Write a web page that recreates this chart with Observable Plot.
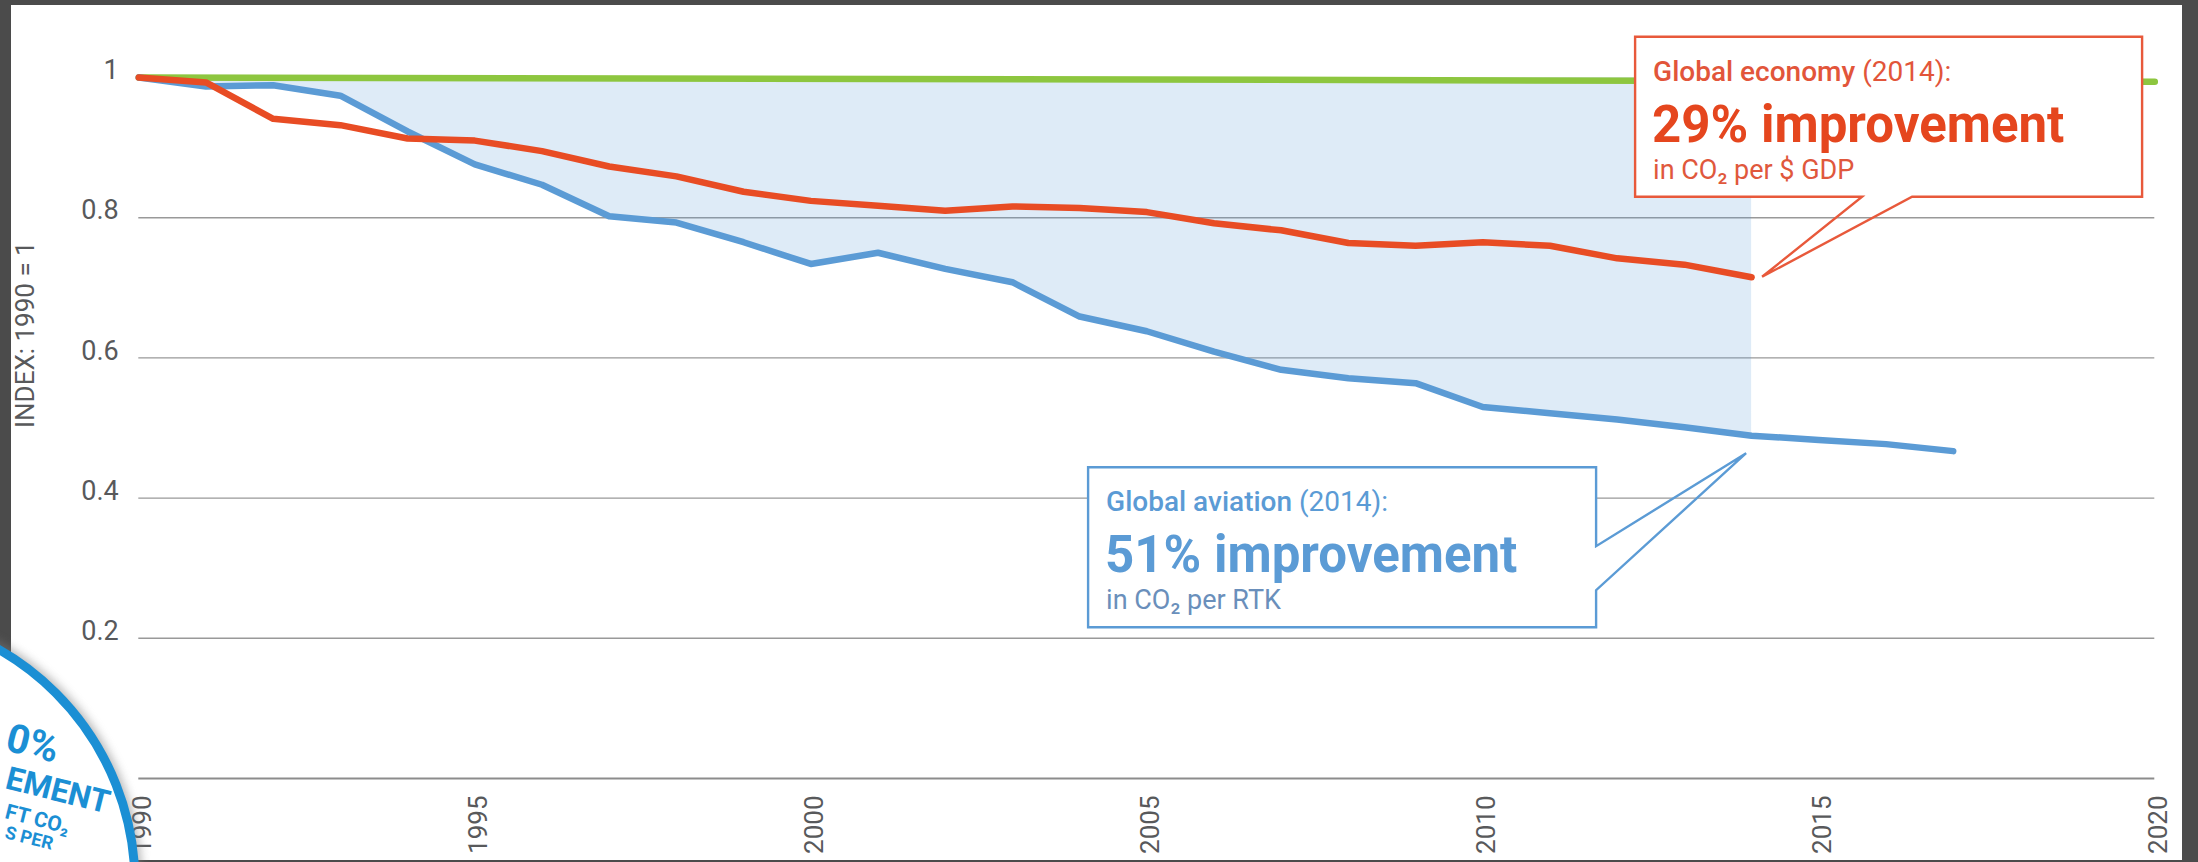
<!DOCTYPE html>
<html>
<head>
<meta charset="utf-8">
<script src="https://cdn.jsdelivr.net/npm/d3@7"></script>
<script src="https://cdn.jsdelivr.net/npm/@observablehq/plot@0.6"></script>
<style>
  html, body { margin: 0; padding: 0; background: #4b4b4b; width: 2198px; height: 862px; overflow: hidden; }
  #panel { position: absolute; left: 11px; top: 5px; width: 2171px; height: 855px; background: #fff; }
  #chart { position: absolute; left: 0; top: 0; }
  #badge { position: absolute; left: 0; top: 0; overflow: hidden; }
</style>
</head>
<body>
<div id="panel"></div>
<div id="chart"></div>
<svg id="badge" width="300" height="862"></svg>
<script>
// ---------------- DATA ----------------
const aviationYears = [1990,1991,1992,1993,1994,1995,1996,1997,1998,1999,2000,2001,2002,2003,2004,2005,2006,2007,2008,2009,2010,2011,2012,2013,2014,2015,2016,2017];
const aviationIndex = [1.000,0.987,0.989,0.974,0.923,0.876,0.847,0.802,0.793,0.765,0.734,0.750,0.727,0.708,0.659,0.638,0.609,0.583,0.571,0.564,0.530,0.521,0.512,0.501,0.489,0.483,0.477,0.467];

const economyYears = [1990,1991,1992,1993,1994,1995,1996,1997,1998,1999,2000,2001,2002,2003,2004,2005,2006,2007,2008,2009,2010,2011,2012,2013,2014];
const economyIndex = [1.000,0.993,0.941,0.932,0.913,0.910,0.895,0.873,0.859,0.837,0.824,0.817,0.810,0.816,0.814,0.808,0.792,0.782,0.764,0.760,0.765,0.760,0.742,0.733,0.715];

const baselineYears = [1990, 2020];
const baselineIndex = [1.000, 0.994];

const shadeEndYear = 2014;

const xTicks = [1990, 1995, 2000, 2005, 2010, 2015, 2020];
const xTickLabels = ["1990", "1995", "2000", "2005", "2010", "2015", "2020"];
const yTicks = [0.2, 0.4, 0.6, 0.8, 1];
const yTickLabels = ["0.2", "0.4", "0.6", "0.8", "1"];
const yAxisTitle = "INDEX: 1990 = 1";

const economyCallout = { title: "Global economy", year: " (2014):", big: "29% improvement", sub: "in CO₂ per $ GDP" };
const aviationCallout = { title: "Global aviation", year: " (2014):", big: "51% improvement", sub: "in CO₂ per RTK" };

const badgeTexts = ["0%", "EMENT", "FT CO₂", "S PER"];

// ---------------- TABLES ----------------
const aviationRows = aviationYears.map((year, i) => ({ year, value: aviationIndex[i] }));
const economyRows = economyYears.map((year, i) => ({ year, value: economyIndex[i] }));
const baselineRows = baselineYears.map((year, i) => ({ year, value: baselineIndex[i] }));
const shadeRows = aviationRows.filter(d => d.year <= shadeEndYear).map(d => ({ year: d.year, lower: d.value, upper: 1 }));

// ---------------- COLOURS ----------------
const BLUE = "#5b9bd5", RED = "#e84c24", GREEN = "#8dc63f", GREY = "#58595b";

const chart = Plot.plot({
  width: 2198,
  height: 862,
  marginLeft: 138.3,
  marginRight: 43.7,
  marginTop: 77,
  marginBottom: 84,
  style: { background: "transparent", fontFamily: "Roboto, sans-serif", color: GREY },
  x: { domain: [1990, 2020], axis: null },
  y: { domain: [0, 1], axis: null },
  marks: [
    Plot.ruleY(yTicks.filter(d => d < 1), { stroke: "#999999", strokeWidth: 1.4 }),
    Plot.ruleY([0], { stroke: "#8c8c8c", strokeWidth: 2 }),
    Plot.areaY(shadeRows, { x: "year", y1: "lower", y2: "upper", fill: BLUE, fillOpacity: 0.2 }),
    Plot.line(baselineRows, { x: "year", y: "value", stroke: GREEN, strokeWidth: 6.5, strokeLinecap: "round" }),
    Plot.line(aviationRows, { x: "year", y: "value", stroke: BLUE, strokeWidth: 6.5, strokeLinecap: "round", strokeLinejoin: "round" }),
    Plot.line(economyRows, { x: "year", y: "value", stroke: RED, strokeWidth: 6.5, strokeLinecap: "round", strokeLinejoin: "round" }),
    Plot.text(yTicks, { frameAnchor: "left", y: d => d, text: (d, i) => yTickLabels[i], textAnchor: "end", dx: -20, dy: -7, fontSize: 27, fill: GREY }),
    Plot.text(xTicks, { frameAnchor: "bottom", x: d => d, text: (d, i) => xTickLabels[i], rotate: -90, textAnchor: "end", dx: 12, dy: 17, fontSize: 26, fill: GREY }),
    Plot.text([yAxisTitle], { frameAnchor: "left", rotate: -90, dx: -113, fontSize: 26, fill: GREY })
  ]
});
document.getElementById("chart").appendChild(chart);

// ---------------- CALLOUTS ----------------
const X = chart.scale("x"), Y = chart.scale("y");
const svg = d3.select(chart);
const g = svg.append("g").attr("font-family", "Roboto, sans-serif").attr("text-anchor", "start");

function callout(box, pointerPath, color, texts, textColors) {
  g.append("rect").attr("x", box.left).attr("y", box.top)
    .attr("width", box.right - box.left).attr("height", box.bottom - box.top)
    .attr("fill", "#fff");
  g.append("path").attr("d", pointerPath).attr("fill", "none")
    .attr("stroke", color).attr("stroke-width", 2.4).attr("stroke-linejoin", "miter");
  const tx = box.left + 18;
  const t1 = g.append("text").attr("x", tx).attr("y", box.top + 44).attr("font-size", 28).attr("fill", textColors[0]);
  t1.append("tspan").attr("font-weight", 500).text(texts.title);
  t1.append("tspan").attr("font-weight", 400).text(texts.year);
  g.append("text").attr("x", tx - 1).attr("y", box.top + 105).attr("font-size", 51)
    .attr("font-weight", 700).attr("fill", textColors[1]).text(texts.big);
  g.append("text").attr("x", tx).attr("y", box.top + 142).attr("font-size", 27)
    .attr("font-weight", 400).attr("fill", textColors[2]).text(texts.sub);
}

// economy callout: tip just right of the 2014 point
{
  const tx = X.apply(2014) + 11, ty = Y.apply(economyIndex[economyIndex.length - 1]);
  const b = { left: tx - 127, right: tx + 380, top: ty - 240, bottom: ty - 80 };
  const p1 = tx + 100, p2 = tx + 150;
  const path = `M${p2},${b.bottom} H${b.right} V${b.top} H${b.left} V${b.bottom} H${p1} L${tx},${ty} Z`;
  callout(b, path, "#e8593b", economyCallout, ["#e2553a", "#e5461e", "#e0583c"]);
}
// aviation callout: tip just below the 2014 point
{
  const ax = X.apply(2014) - 5, ay = Y.apply(aviationIndex[aviationYears.indexOf(2014)]) + 18;
  const b = { left: ax - 658, right: ax - 150, top: ay + 14, bottom: ay + 174 };
  const q1 = ay + 93, q2 = ay + 137;
  const path = `M${b.right},${q1} V${b.top} H${b.left} V${b.bottom} H${b.right} V${q2} L${ax},${ay} Z`;
  callout(b, path, BLUE, aviationCallout, [BLUE, BLUE, "#6a8fbb"]);
}

// ---------------- BADGE (cropped decoration, lower left) ----------------
const badge = d3.select("#badge");
const defs = badge.append("defs");
defs.append("filter").attr("id", "sh").attr("x", "-30%").attr("y", "-30%").attr("width", "160%").attr("height", "160%")
  .append("feGaussianBlur").attr("stdDeviation", 5);
badge.append("circle").attr("cx", -135).attr("cy", 884).attr("r", 277).attr("fill", "#7a7a7a").attr("opacity", 0.55).attr("filter", "url(#sh)");
badge.append("circle").attr("cx", -135).attr("cy", 884).attr("r", 270).attr("fill", "#fff").attr("stroke", "#1b8fd4").attr("stroke-width", 9);
const bt = badge.append("g").attr("font-family", "Roboto, sans-serif").attr("font-weight", 700).attr("fill", "#1b8fd4").attr("text-anchor", "start");
const badgeLayout = [[4, 750, 40], [4, 788, 32], [4, 818, 21], [4, 838, 18]];
badgeTexts.forEach((t, i) => {
  const [x, y, fs] = badgeLayout[i];
  bt.append("text").attr("transform", `translate(${x},${y}) rotate(14)`).attr("font-size", fs).text(t);
});
</script>
</body>
</html>
